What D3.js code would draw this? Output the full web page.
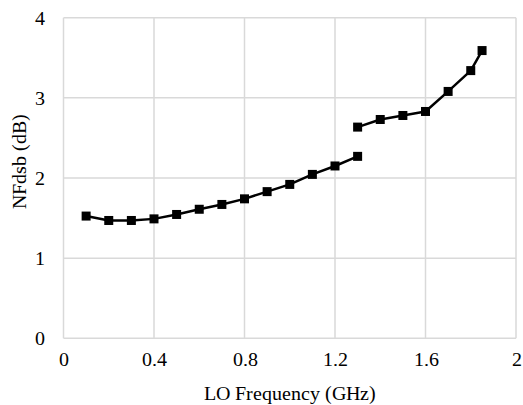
<!DOCTYPE html>
<html>
<head>
<meta charset="utf-8">
<script src="https://cdn.jsdelivr.net/npm/d3@7"></script>
<style>
  @font-face {
    font-family: "ChartSerif";
    src: local("Liberation Serif"), local("LiberationSerif-Regular"), local("DejaVu Serif"), local("DejaVuSerif");
  }
  body { margin: 0; background: #fff; }
  svg text { fill: #000; }
</style>
</head>
<body>
<div id="chart"></div>
<script>
    //Data
    var freqLow = [0.1, 0.2, 0.3, 0.4, 0.5, 0.6, 0.7, 0.8, 0.9, 1.0, 1.1, 1.2, 1.3];
    var nfLow = [1.525, 1.47, 1.47, 1.49, 1.545, 1.61, 1.67, 1.74, 1.83, 1.92, 2.045, 2.15, 2.27];
    var freqHigh = [1.3, 1.4, 1.5, 1.6, 1.7, 1.8, 1.85];
    var nfHigh = [2.635, 2.73, 2.78, 2.83, 3.08, 3.34, 3.59];
    var xTicks = [0, 0.4, 0.8, 1.2, 1.6, 2];
    var yTicks = [0, 1, 2, 3, 4];

    var width = 523, height = 405;
    var margin = {top: 17.7, right: 7, bottom: 66.7, left: 63.5};
    var serif = '"ChartSerif", "Liberation Serif", "DejaVu Serif", serif';

    var svg = d3.select("#chart")
        .append("svg")
        .attr("width", width)
        .attr("height", height);

    //Scales
    var xScale = d3.scaleLinear()
        .domain([0, 2])
        .range([margin.left, width - margin.right]);

    var yScale = d3.scaleLinear()
        .domain([0, 4])
        .range([height - margin.bottom, margin.top]);

    //Gridlines
    var grid = svg.append("g").attr("class", "grid");

    grid.selectAll("line.v")
        .data(xTicks)
        .enter()
        .append("line")
            .attr("class", "v")
            .attr("x1", d => xScale(d))
            .attr("x2", d => xScale(d))
            .attr("y1", yScale(0))
            .attr("y2", yScale(4))
            .style("stroke", "#d9d9d9")
            .style("stroke-width", 1.5);

    grid.selectAll("line.h")
        .data(yTicks)
        .enter()
        .append("line")
            .attr("class", "h")
            .attr("x1", xScale(0))
            .attr("x2", xScale(2))
            .attr("y1", d => yScale(d))
            .attr("y2", d => yScale(d))
            .style("stroke", "#d9d9d9")
            .style("stroke-width", 1.5);

    //Axes (labels only, lines come from grid)
    var xAxis = svg.append("g")
        .attr("transform", "translate(0," + yScale(0) + ")")
        .call(d3.axisBottom(xScale).tickValues(xTicks).tickSize(0).tickPadding(14).tickFormat(d3.format("")));
    xAxis.attr("font-family", serif).attr("font-size", 20);
    xAxis.select(".domain").remove();

    var yAxis = svg.append("g")
        .attr("transform", "translate(" + xScale(0) + ",0)")
        .call(d3.axisLeft(yScale).tickValues(yTicks).tickSize(0).tickPadding(19).tickFormat(d3.format("d")));
    yAxis.attr("font-family", serif).attr("font-size", 20);
    yAxis.select(".domain").remove();

    //Axis titles
    svg.append("text")
        .attr("x", (xScale(0) + xScale(2)) / 2)
        .attr("y", 400)
        .attr("text-anchor", "middle")
        .attr("font-family", serif)
        .style("font-size", "20px")
        .text("LO Frequency (GHz)");

    svg.append("text")
        .attr("transform", "translate(25.5," + 161.5 + ") rotate(-90)")
        .attr("text-anchor", "middle")
        .attr("font-family", serif)
        .style("font-size", "20px")
        .text("NFdsb (dB)");

    //Series lines and markers
    var line = d3.line()
        .x(d => xScale(d[0]))
        .y(d => yScale(d[1]));

    var series = [d3.zip(freqLow, nfLow), d3.zip(freqHigh, nfHigh)];

    svg.append("g").selectAll("path")
        .data(series)
        .enter()
        .append("path")
            .attr("d", line)
            .attr("fill", "none")
            .attr("stroke", "#000")
            .attr("stroke-width", 2.5)
            .attr("stroke-linejoin", "round");

    var markerSize = 9;
    svg.append("g").selectAll("rect")
        .data(series.flat())
        .enter()
        .append("rect")
            .attr("x", d => xScale(d[0]) - markerSize / 2)
            .attr("y", d => yScale(d[1]) - markerSize / 2)
            .attr("width", markerSize)
            .attr("height", markerSize)
            .attr("fill", "#000");
</script>
</body>
</html>
